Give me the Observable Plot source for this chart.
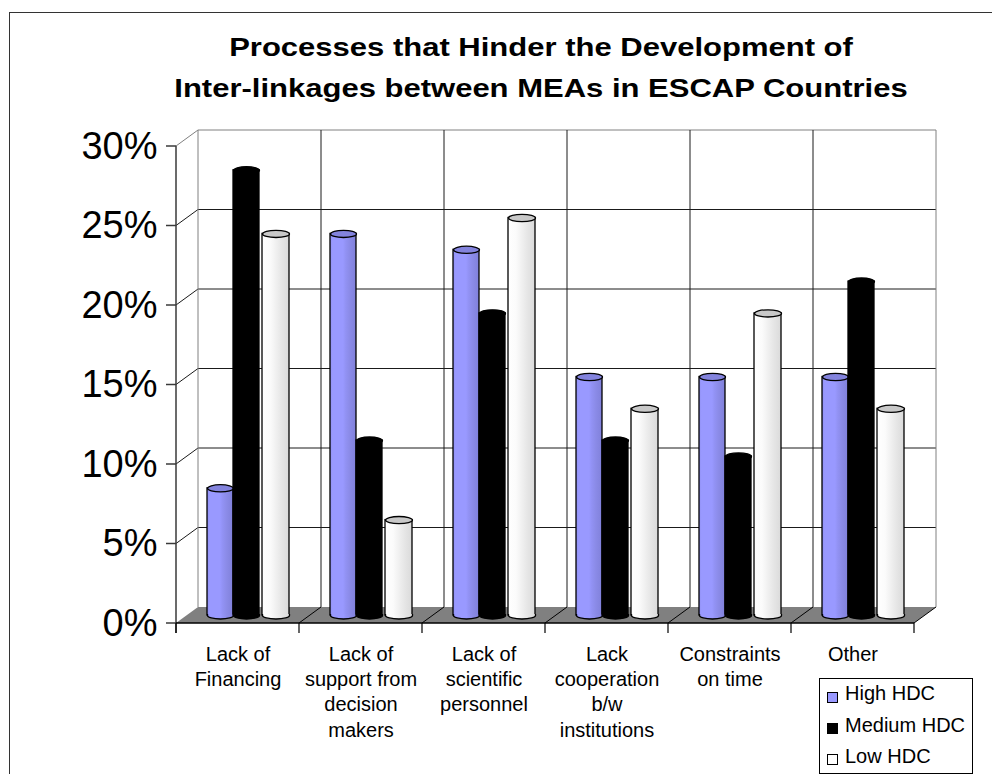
<!DOCTYPE html>
<html>
<head>
<meta charset="utf-8">
<script src="https://cdn.jsdelivr.net/npm/d3@7"></script>
<script src="https://cdn.jsdelivr.net/npm/@observablehq/plot@0.6"></script>
<style>
html, body { margin: 0; padding: 0; background: #fff; }
body { width: 992px; height: 774px; position: relative; overflow: hidden; font-family: 'Liberation Sans', Arial, sans-serif; }
#chart { position: absolute; left: 0; top: 0; z-index: 1; }
#frame { position: absolute; left: 9px; top: 12px; width: 1200px; height: 1000px; border-left: 1.5px solid #333; border-top: 1.5px solid #333; pointer-events: none; z-index: 3; }
.tl { position: absolute; left: 541px; font-weight: bold; font-size: 26.5px; line-height: 26.5px; white-space: nowrap; transform: translateX(-50%) scaleX(1.17); color: #000; z-index: 3; }
#legend { position: absolute; left: 819px; top: 678px; width: 152px; height: 94px; border: 1px solid #000; background: #fff; z-index: 3; }
.li { position: absolute; left: 25px; font-size: 20px; line-height: 20px; white-space: nowrap; color: #000; }
.sw { position: absolute; left: 7px; width: 9px; height: 9px; border: 1px solid #000; }
</style>
</head>
<body>
<div id="chart"></div>
<div id="frame"></div>
<div class="tl" id="t1" style="top:33.6px"></div>
<div class="tl" id="t2" style="top:74.6px"></div>
<div id="legend"></div>
<script>
// ---------------- data ----------------
const titleLines = ["Processes that Hinder the Development of", "Inter-linkages between MEAs in ESCAP Countries"];
const categories = ["Lack of Financing", "Lack of support from decision makers", "Lack of scientific personnel", "Lack cooperation b/w institutions", "Constraints on time", "Other"];
const xTickLabels = ["Lack of\nFinancing", "Lack of\nsupport from\ndecision\nmakers", "Lack of\nscientific\npersonnel", "Lack\ncooperation\nb/w\ninstitutions", "Constraints\non time", "Other"];
const seriesNames = ["High HDC", "Medium HDC", "Low HDC"];
const highHDC   = [0.08, 0.24, 0.23, 0.15, 0.15, 0.15];
const mediumHDC = [0.28, 0.11, 0.19, 0.11, 0.10, 0.21];
const lowHDC    = [0.24, 0.06, 0.25, 0.13, 0.19, 0.13];
const yTicks = [0, 0.05, 0.10, 0.15, 0.20, 0.25, 0.30];
const yMax = 0.30;

// ---------------- styling ----------------
const DX = 22, DY = -16;   // depth offset of the back wall
const BX = 11, BY = -8;    // depth offset of the bar row
const seriesValues = [highHDC, mediumHDC, lowHDC];
const seriesStyle = [
  {fill: "url(#gBlue)", cap: "#8383dd", swatch: "#9999ff", insetLeft: 20, insetRight: 77, capDx: -17.5, rx: 13},
  {fill: "#000000",     cap: "#000000", swatch: "#000000", insetLeft: 46, insetRight: 51, capDx: 8.5,  rx: 13},
  {fill: "url(#gWhite)", cap: "#c8c8c8", swatch: "#ffffff", insetLeft: 75, insetRight: 21, capDx: 38,  rx: 13.5}
];

document.getElementById("t1").textContent = titleLines[0];
document.getElementById("t2").textContent = titleLines[1];

const K = 0.5523;
function ellipseSymbol(rx, ry) {
  return {draw(ctx) {
    ctx.moveTo(-rx, 0);
    ctx.bezierCurveTo(-rx, -ry * K, -rx * K, -ry, 0, -ry);
    ctx.bezierCurveTo(rx * K, -ry, rx, -ry * K, rx, 0);
    ctx.bezierCurveTo(rx, ry * K, rx * K, ry, 0, ry);
    ctx.bezierCurveTo(-rx * K, ry, -rx, ry * K, -rx, 0);
    ctx.closePath();
  }};
}
function bottomSymbol(rx, ry) {
  return {draw(ctx) {
    ctx.moveTo(-rx, -1.5);
    ctx.lineTo(-rx, 0);
    ctx.bezierCurveTo(-rx, ry * K, -rx * K, ry, 0, ry);
    ctx.bezierCurveTo(rx * K, ry, rx, ry * K, rx, 0);
    ctx.lineTo(rx, -1.5);
  }};
}

function defsMark() {
  const defs = d3.create("svg:defs");
  const gb = defs.append("linearGradient").attr("id", "gBlue").attr("x1", 0).attr("x2", 1).attr("y1", 0).attr("y2", 0);
  [[0, "#9090f2"], [0.1, "#9999ff"], [0.5, "#9999ff"], [0.6, "#9292f4"], [0.75, "#8b8be8"], [1, "#8080da"]]
    .forEach(([o, c]) => gb.append("stop").attr("offset", o).attr("stop-color", c));
  const gw = defs.append("linearGradient").attr("id", "gWhite").attr("x1", 0).attr("x2", 1).attr("y1", 0).attr("y2", 0);
  [[0, "#ffffff"], [0.3, "#fbfbfb"], [0.5, "#f1f1f1"], [0.72, "#e6e6e6"], [1, "#dadada"]]
    .forEach(([o, c]) => gw.append("stop").attr("offset", o).attr("stop-color", c));
  return defs.node();
}

function wallsMark(index, scales) {
  const x = scales.x, y = scales.y;
  const bw = typeof x.bandwidth === "function" ? x.bandwidth() : (x(categories[1]) - x(categories[0]));
  const bounds = categories.map(c => x(c)).concat([x(categories[categories.length - 1]) + bw]);
  const xl = bounds[0], xr = bounds[bounds.length - 1];
  const y0 = y(0), yt = y(yMax);
  const g = d3.create("svg:g").attr("fill", "none");
  const line = (x1, y1, x2, y2, stroke, w = 1) =>
    g.append("line").attr("x1", x1).attr("y1", y1).attr("x2", x2).attr("y2", y2).attr("stroke", stroke).attr("stroke-width", w);
  // back wall horizontal gridlines
  yTicks.forEach(t => { if (t > 0) line(xl + DX, y(t) + DY, xr + DX, y(t) + DY, t === yMax ? "#808080" : "#1a1a1a"); });
  // left wall diagonals
  yTicks.forEach(t => { if (t > 0) line(xl, y(t), xl + DX, y(t) + DY, t === yMax ? "#808080" : "#1a1a1a"); });
  // back wall verticals
  bounds.forEach((b, i) => line(b + DX, y0 + DY, b + DX, yt + DY, (i === 0 || i === bounds.length - 1) ? "#808080" : "#1a1a1a"));
  // floor
  g.append("path").attr("d", `M${xl},${y0}L${xr},${y0}L${xr + DX},${y0 + DY}L${xl + DX},${y0 + DY}Z`).attr("fill", "#808080");
  bounds.forEach((b, i) => { if (i > 0) line(b, y0, b + DX, y0 + DY, "#000"); });
  // front axes
  line(xl, yt, xl, y0 + 10, "#3a3a3a", 1.5);
  yTicks.forEach(t => line(xl - 10, y(t), xl, y(t), "#3a3a3a", 1.5));
  line(xl, y0, xr, y0, "#000", 1.5);
  bounds.forEach(b => line(b, y0, b, y0 + 10, "#000", 1.2));
  return g.node();
}

const barMarks = [];
seriesValues.forEach((vals, s) => {
  const st = seriesStyle[s];
  const rows = categories.map((c, i) => ({category: c, series: seriesNames[s], value: vals[i]}));
  barMarks.push(
    Plot.barY(rows, {x: "category", y: "value", fill: st.fill, stroke: "#000", strokeWidth: 1.3,
      insetLeft: st.insetLeft, insetRight: st.insetRight, dx: BX, dy: BY}),
    Plot.dot(rows, {x: "category", y: 0, symbol: bottomSymbol(st.rx, 3.5), r: 4, fill: st.fill,
      stroke: "#000", strokeWidth: 1.3, dx: st.capDx, dy: BY}),
    Plot.dot(rows, {x: "category", y: "value", symbol: ellipseSymbol(st.rx, 3.6), r: 4, fill: st.cap,
      stroke: "#000", strokeWidth: 1.3, dx: st.capDx, dy: BY})
  );
});

const chart = Plot.plot({
  width: 992,
  height: 774,
  marginLeft: 176,
  marginRight: 78,
  marginTop: 146,
  marginBottom: 151,
  style: {fontFamily: "'Liberation Sans', Arial, sans-serif", background: "transparent", overflow: "visible", color: "#000"},
  x: {type: "band", domain: categories, padding: 0, round: false, axis: null},
  y: {domain: [0, yMax], axis: null},
  marks: [
    defsMark,
    wallsMark,
    ...barMarks,
    Plot.text(yTicks, {y: d => d, text: d => d3.format(".0%")(d), frameAnchor: "left", textAnchor: "end",
      dx: -19, fontSize: 38, fill: "#000"}),
    Plot.text(categories, {x: d => d, text: (d, i) => xTickLabels[i], frameAnchor: "bottom", lineAnchor: "top",
      dy: 19, fontSize: 20, lineHeight: 1.27, fill: "#000"})
  ]
});
document.getElementById("chart").appendChild(chart);

// legend
const legend = document.getElementById("legend");
const tops = [4, 35.6, 67];
const swTops = [13, 43.5, 75];
seriesNames.forEach((name, i) => {
  const sw = document.createElement("div");
  sw.className = "sw";
  sw.style.top = swTops[i] + "px";
  sw.style.background = seriesStyle[i].swatch;
  legend.appendChild(sw);
  const t = document.createElement("div");
  t.className = "li";
  t.style.top = tops[i] + "px";
  t.textContent = name;
  legend.appendChild(t);
});
</script>
</body>
</html>
